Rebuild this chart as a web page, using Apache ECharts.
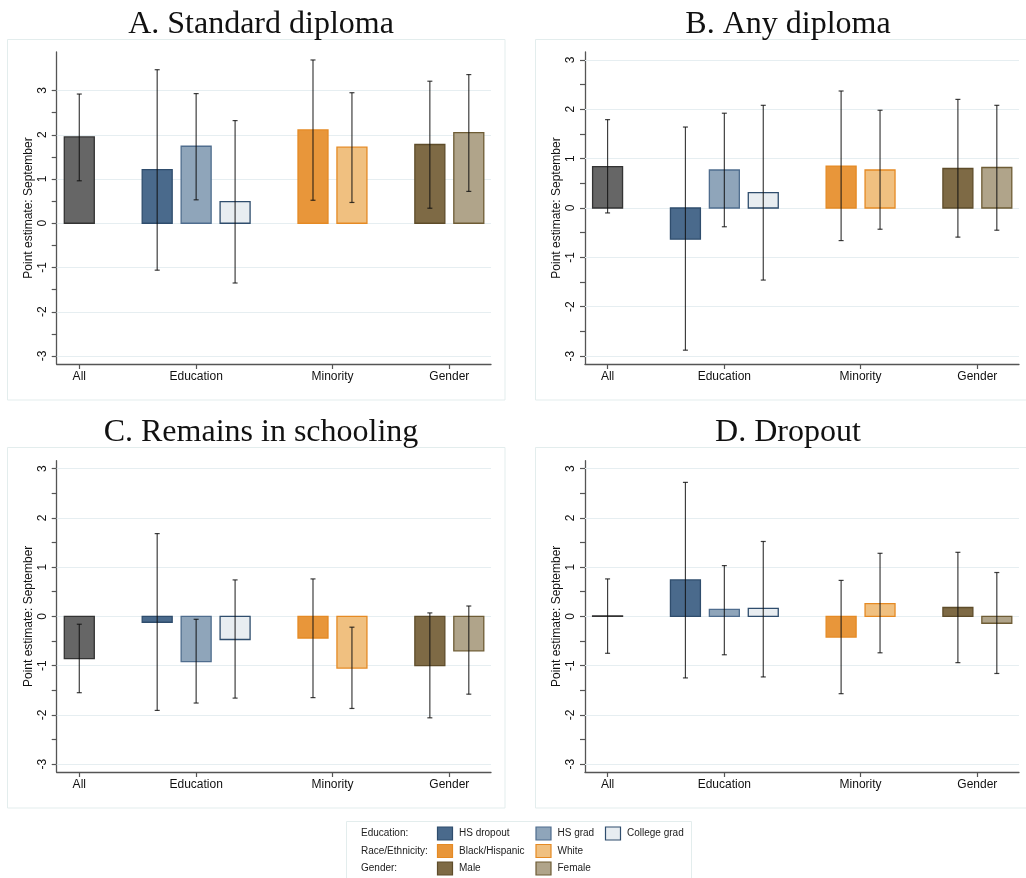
<!DOCTYPE html>
<html>
<head>
<meta charset="utf-8">
<title>Point estimates: September</title>
<script src="https://cdn.jsdelivr.net/npm/echarts@6/dist/echarts.min.js"></script>
<style>
  html, body { margin: 0; padding: 0; background: #fff; }
  #chart { width: 1026px; height: 878px; }
</style>
</head>
<body>
<div id="chart"></div>
<script>
// bar order: All, HS dropout, HS grad, College grad, Black/Hispanic, White, Male, Female
const barPos = [0, 2, 3, 4, 6, 7, 9, 10]
const groupPos = [0, 3, 6.5, 9.5]
const groupNames = ['All', 'Education', 'Minority', 'Gender']
const yTickVals = [-3, -2.5, -2, -1.5, -1, -0.5, 0, 0.5, 1, 1.5, 2, 2.5, 3]
const yLabelVals = [-3, -2, -1, 0, 1, 2, 3]

// A. Standard diploma
const stdEst = [1.95, 1.21, 1.74, 0.49, 2.11, 1.72, 1.78, 2.05]
const stdLo = [0.96, -1.06, 0.53, -1.35, 0.52, 0.47, 0.34, 0.72]
const stdHi = [2.92, 3.47, 2.93, 2.32, 3.69, 2.95, 3.21, 3.36]

// B. Any diploma
const anyEst = [0.84, -0.63, 0.77, 0.31, 0.85, 0.77, 0.80, 0.82]
const anyLo = [-0.10, -2.88, -0.38, -1.46, -0.66, -0.43, -0.59, -0.45]
const anyHi = [1.79, 1.64, 1.92, 2.08, 2.37, 1.98, 2.20, 2.08]

// C. Remains in schooling
const remEst = [-0.86, -0.12, -0.92, -0.47, -0.44, -1.05, -1.00, -0.70]
const remLo = [-1.55, -1.91, -1.76, -1.66, -1.65, -1.87, -2.06, -1.58]
const remHi = [-0.16, 1.68, -0.06, 0.74, 0.76, -0.22, 0.07, 0.21]

// D. Dropout
const dropEst = [0.01, 0.74, 0.14, 0.16, -0.42, 0.26, 0.18, -0.14]
const dropLo = [-0.75, -1.25, -0.78, -1.23, -1.57, -0.74, -0.94, -1.16]
const dropHi = [0.76, 2.72, 1.03, 1.52, 0.73, 1.28, 1.30, 0.89]

// colours
const fills = ['#666666', '#4a6a8c', '#8fa5ba', '#e8edf1', '#e8963a', '#f0c080', '#7e6a45', '#b0a48a']
const borders = ['#333333', '#2f4d6d', '#4f6d8e', '#2f4d6d', '#e58a24', '#e58a24', '#5e4c2a', '#6e5c35']

const panels = [
  { title: 'A. Standard diploma', est: stdEst, lo: stdLo, hi: stdHi, ymin: -3.18, ymax: 3.87,
    left: 56.7, top: 52, width: 434.3, height: 312, cx: 256, ty: 4 },
  { title: 'B. Any diploma', est: anyEst, lo: anyLo, hi: anyHi, ymin: -3.16, ymax: 3.16,
    left: 585, top: 52, width: 434, height: 312, cx: 783, ty: 4 },
  { title: 'C. Remains in schooling', est: remEst, lo: remLo, hi: remHi, ymin: -3.16, ymax: 3.16,
    left: 56.7, top: 460.7, width: 434.3, height: 311.3, cx: 256, ty: 412 },
  { title: 'D. Dropout', est: dropEst, lo: dropLo, hi: dropHi, ymin: -3.16, ymax: 3.16,
    left: 585, top: 460.7, width: 434, height: 311.3, cx: 783, ty: 412 }
]

const chart = echarts.init(document.getElementById('chart'))

const axisColor = '#555'
const textColor = '#111'
const sans = 'Liberation Sans, Arial, sans-serif'

function renderBar(params, api) {
  const i = params.dataIndex
  const x = api.value(0)
  const base = api.coord([x, 0])
  const end = api.coord([x, api.value(1)])
  const lo = api.coord([x, api.value(2)])
  const hi = api.coord([x, api.value(3)])
  const w = api.size([0.77, 0])[0]
  const top = Math.min(base[1], end[1])
  const h = Math.max(Math.abs(base[1] - end[1]), 0.5)
  const cap = 2.5
  const errStyle = { stroke: 'rgba(15,15,15,0.8)', lineWidth: 1.2 }
  return {
    type: 'group',
    children: [
      { type: 'rect', shape: { x: base[0] - w / 2, y: top, width: w, height: h },
        style: { fill: fills[i], stroke: borders[i], lineWidth: 1.3 } },
      { type: 'line', shape: { x1: lo[0], y1: lo[1], x2: hi[0], y2: hi[1] }, style: errStyle },
      { type: 'line', shape: { x1: lo[0] - cap, y1: lo[1], x2: lo[0] + cap, y2: lo[1] }, style: errStyle },
      { type: 'line', shape: { x1: hi[0] - cap, y1: hi[1], x2: hi[0] + cap, y2: hi[1] }, style: errStyle }
    ]
  }
}

const grids = [], xAxes = [], yAxes = [], series = [], titles = []
panels.forEach((p, k) => {
  grids.push({ left: p.left, top: p.top, width: p.width, height: p.height })
  titles.push({
    text: p.title, left: p.cx, top: p.ty, textAlign: 'center',
    textStyle: { fontFamily: 'Liberation Serif, Times New Roman, serif', fontSize: 32, fontWeight: 'normal', color: textColor }
  })
  xAxes.push({
    gridIndex: k, type: 'value', min: -0.58, max: 10.57,
    axisLine: { onZero: false, lineStyle: { color: axisColor, width: 1.3 } },
    axisTick: { customValues: groupPos, length: 5, lineStyle: { color: axisColor, width: 1.2 } },
    axisLabel: { customValues: groupPos, formatter: v => groupNames[groupPos.indexOf(v)],
      margin: 7, fontSize: 12, fontFamily: sans, color: textColor },
    splitLine: { show: false }
  })
  yAxes.push({
    gridIndex: k, type: 'value', min: p.ymin, max: p.ymax,
    name: 'Point estimate: September', nameLocation: 'middle', nameGap: 22, nameRotate: 90,
    nameTextStyle: { fontSize: 12, fontFamily: sans, color: textColor },
    axisLine: { show: true, onZero: false, lineStyle: { color: axisColor, width: 1.3 } },
    axisTick: { show: true, customValues: yTickVals, length: 5, lineStyle: { color: axisColor, width: 1.2 } },
    axisLabel: { customValues: yLabelVals, rotate: 90, margin: 8, fontSize: 12, fontFamily: sans, color: textColor },
    splitLine: { show: false }
  })
  series.push({
    type: 'custom', xAxisIndex: k, yAxisIndex: k,
    data: barPos.map((x, i) => [x, p.est[i], p.lo[i], p.hi[i]]),
    encode: { x: 0, y: [1, 2, 3] },
    renderItem: renderBar,
    silent: true,
    markLine: {
      z: 1, silent: true, symbol: 'none', animation: false,
      label: { show: false },
      lineStyle: { color: '#e6eef1', width: 1, type: 'solid' },
      data: yLabelVals.map(v => ({ yAxis: v }))
    }
  })
})

// panel frames and legend
const graphics = []
const frames = [[7.5, 39.5], [535.5, 39.5], [7.5, 447.5], [535.5, 447.5]]
frames.forEach(f => graphics.push({
  type: 'rect', shape: { x: f[0], y: f[1], width: 497.5, height: 360.5 },
  style: { fill: null, stroke: '#e3eded', lineWidth: 1 }, z: 0
}))

const legendRows = ['Education:', 'Race/Ethnicity:', 'Gender:']
const legendItems = [
  [['HS dropout', 1], ['HS grad', 2], ['College grad', 3]],
  [['Black/Hispanic', 4], ['White', 5]],
  [['Male', 6], ['Female', 7]]
]
const legendCols = [437.5, 536, 605.5]
const legendRowY = [833.5, 851, 868.5]

graphics.push({
  type: 'rect', shape: { x: 346.5, y: 821.5, width: 345, height: 70 },
  style: { fill: '#fff', stroke: '#e3eded', lineWidth: 1 }
})
legendRows.forEach((r, j) => {
  graphics.push({ type: 'text', x: 361, y: legendRowY[j],
    style: { text: r, fontSize: 10, fontFamily: sans, fill: '#222', verticalAlign: 'middle' } })
  legendItems[j].forEach((it, c) => {
    graphics.push({ type: 'rect', shape: { x: legendCols[c], y: legendRowY[j] - 6.5, width: 15, height: 13 },
      style: { fill: fills[it[1]], stroke: borders[it[1]], lineWidth: 1.2 } })
    graphics.push({ type: 'text', x: legendCols[c] + 21.5, y: legendRowY[j],
      style: { text: it[0], fontSize: 10, fontFamily: sans, fill: '#222', verticalAlign: 'middle' } })
  })
})

chart.setOption({
  animation: false,
  backgroundColor: '#fff',
  title: titles,
  grid: grids,
  xAxis: xAxes,
  yAxis: yAxes,
  series: series,
  graphic: graphics
})
</script>
</body>
</html>
